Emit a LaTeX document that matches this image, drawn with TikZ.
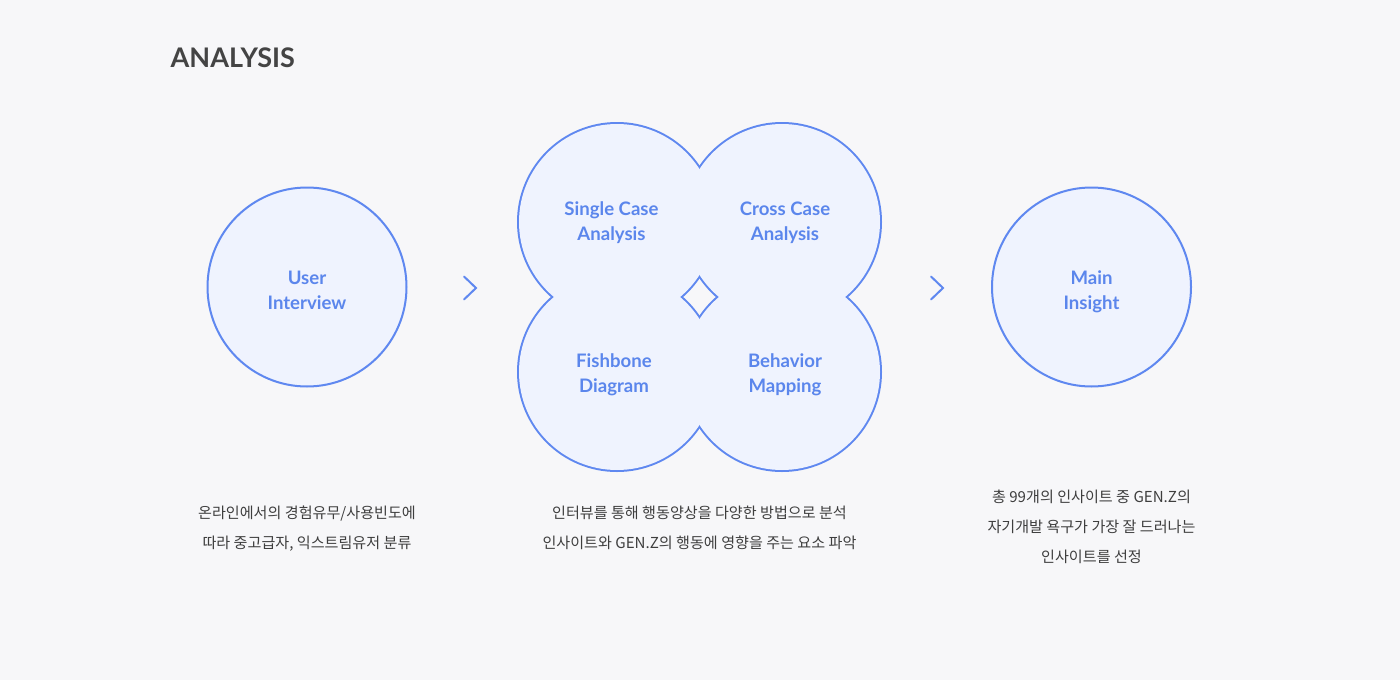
\documentclass[tikz,border=0pt]{standalone}
\usepackage{fontspec}
\setmainfont{Lato}
\newfontfamily\kr{Noto Sans CJK KR}
\definecolor{bg}{HTML}{F7F7F9}
\definecolor{blueline}{HTML}{5F88F0}
\definecolor{bluetext}{HTML}{5B86EC}
\definecolor{bluefill}{HTML}{EFF3FE}
\definecolor{graytext}{HTML}{3E3E3E}
\definecolor{titlegray}{HTML}{444444}
\begin{document}
\begin{tikzpicture}[x=1pt,y=-1pt,
  label/.style={inner sep=0pt, anchor=base, align=center, text=bluetext,
    font=\fontsize{18.6}{25}\selectfont\bfseries},
  desc/.style={inner sep=0pt, anchor=base, align=center, text=graytext,
    font=\kr\fontsize{15.1}{30}\selectfont},
  bubble/.style={circle, draw=blueline, fill=bluefill, line width=2pt,
    minimum size=199pt, inner sep=0pt},
  chev/.style={draw=blueline, line width=2pt, line cap=round, line join=miter}
]
\fill[bg] (0,0) rectangle (1400,680);
\useasboundingbox (0,0) rectangle (1400,680);

% title
\node[inner sep=0pt, anchor=base west, text=titlegray,
  font=\fontsize{27}{27}\selectfont\bfseries] (title) at (170.5,67) {ANALYSIS};

% left and right circles
\node[bubble] (ui) at (307,287) {};
\node[bubble] (mi) at (1091.5,287) {};
\node[label] (uil) at (307,309) {User\\Interview};
\node[label] (mil) at (1091.5,309) {Main\\Insight};

% chevrons
\coordinate (c1a) at (464,276.5);
\coordinate (c1b) at (476,288);
\coordinate (c1c) at (464,299.5);
\draw[chev] (c1a) -- (c1b) -- (c1c);
\coordinate (c2a) at (931,276.5);
\coordinate (c2b) at (943,288);
\coordinate (c2c) at (931,299.5);
\draw[chev] (c2a) -- (c2b) -- (c2c);

% central four-circle shape
\foreach \cx/\cy in {617/222, 782/222, 617/372, 782/372}{
  \draw[blueline, line width=4pt] (\cx,\cy) circle[radius=98pt];
}
\foreach \cx/\cy in {617/222, 782/222, 617/372, 782/372}{
  \fill[bluefill] (\cx,\cy) circle[radius=98pt];
}
\node[label] (sca) at (611.5,240) {Single Case\\Analysis};
\node[label] (cca) at (785,240) {Cross Case\\Analysis};
\node[label] (fd) at (614,392) {Fishbone\\Diagram};
\node[label] (bm) at (785,392) {Behavior\\Mapping};

% descriptions
\node[desc] (d1) at (307,548) {온라인에서의 경험유무/사용빈도에\\따라 중고급자, 익스트림유저 분류};
\node[desc] (d2) at (699.5,548) {인터뷰를 통해 행동양상을 다양한 방법으로 분석\\인사이트와 GEN.Z의 행동에 영향을 주는 요소 파악};
\node[desc] (d3) at (1091.5,562) {총 99개의 인사이트 중 GEN.Z의\\자기개발 욕구가 가장 잘 드러나는\\인사이트를 선정};
\end{tikzpicture}
\end{document}
